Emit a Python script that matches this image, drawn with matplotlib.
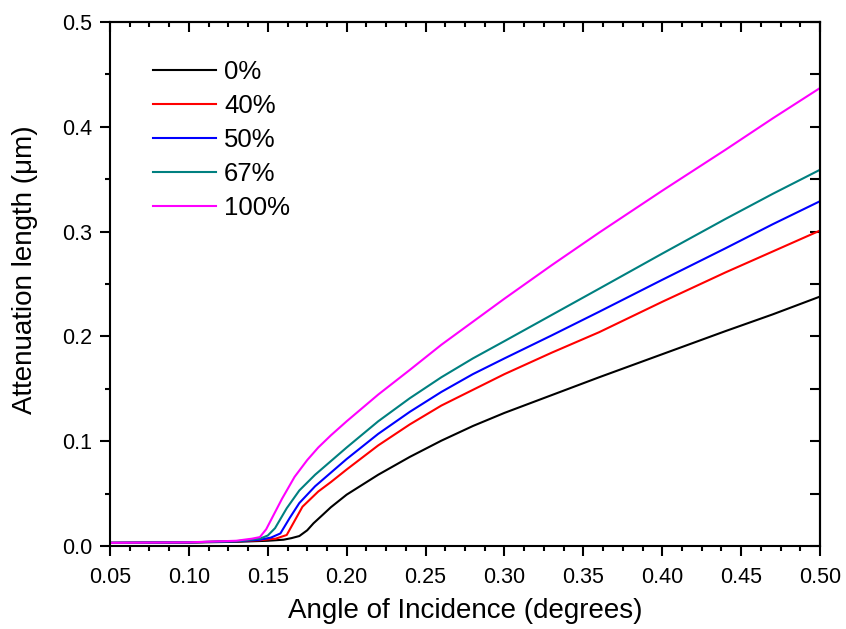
import matplotlib
matplotlib.use('Agg')
import matplotlib.pyplot as plt
from matplotlib.ticker import MultipleLocator

plt.rcParams['font.family'] = ['Liberation Sans', 'DejaVu Sans']

labels = ['0%', '40%', '50%', '67%', '100%']
colors = ['#000000', '#ff0000', '#0000ff', '#008080', '#ff00ff']

# angle (degrees) and attenuation length (um)
x_0 = [0.05, 0.10, 0.13, 0.15, 0.16, 0.165, 0.170, 0.175, 0.179, 0.185, 0.19, 0.20,
       0.22, 0.24, 0.26, 0.28, 0.30, 0.33, 0.36, 0.40, 0.44, 0.47, 0.50]
y_0 = [0.003, 0.0033, 0.004, 0.005, 0.006, 0.0075, 0.0095, 0.015, 0.0217, 0.030,
       0.037, 0.049, 0.068, 0.085, 0.1005, 0.1145, 0.127, 0.144, 0.161, 0.183, 0.205,
       0.221, 0.238]

x_40 = [0.05, 0.10, 0.13, 0.145, 0.155, 0.162, 0.167, 0.172, 0.182, 0.19, 0.20,
        0.22, 0.24, 0.26, 0.28, 0.30, 0.33, 0.36, 0.40, 0.44, 0.47, 0.50]
y_40 = [0.003, 0.0035, 0.0045, 0.0055, 0.007, 0.0105, 0.024, 0.0375, 0.052, 0.061,
        0.073, 0.096, 0.116, 0.134, 0.149, 0.164, 0.1845, 0.204, 0.233, 0.261, 0.281,
        0.301]

x_50 = [0.05, 0.10, 0.13, 0.145, 0.152, 0.158, 0.164, 0.170, 0.18, 0.19, 0.20,
        0.22, 0.24, 0.26, 0.28, 0.30, 0.33, 0.36, 0.40, 0.44, 0.47, 0.50]
y_50 = [0.003, 0.0035, 0.0045, 0.006, 0.008, 0.012, 0.027, 0.041, 0.057, 0.070,
        0.083, 0.107, 0.128, 0.147, 0.164, 0.179, 0.201, 0.2235, 0.254, 0.284, 0.307,
        0.329]

x_67 = [0.05, 0.10, 0.13, 0.145, 0.150, 0.1546, 0.162, 0.170, 0.18, 0.19, 0.20,
        0.22, 0.24, 0.26, 0.28, 0.30, 0.33, 0.36, 0.40, 0.44, 0.47, 0.50]
y_67 = [0.003, 0.0035, 0.0045, 0.007, 0.010, 0.017, 0.036, 0.053, 0.068, 0.081,
        0.094, 0.119, 0.141, 0.161, 0.179, 0.1955, 0.2205, 0.2455, 0.279, 0.312, 0.336,
        0.359]

x_100 = [0.05, 0.10, 0.13, 0.14, 0.145, 0.149, 0.159, 0.167, 0.175, 0.182, 0.19,
         0.20, 0.22, 0.24, 0.26, 0.28, 0.30, 0.33, 0.36, 0.40, 0.44, 0.47, 0.50]
y_100 = [0.003, 0.0035, 0.005, 0.007, 0.0085, 0.016, 0.045, 0.066, 0.082, 0.094,
         0.1056, 0.119, 0.1445, 0.168, 0.192, 0.214, 0.236, 0.268, 0.299, 0.339,
         0.378, 0.408, 0.437]

xs = [x_0, x_40, x_50, x_67, x_100]
ys = [y_0, y_40, y_50, y_67, y_100]

fig = plt.figure(figsize=(8.46, 6.29), dpi=100)
ax = fig.add_axes([110 / 846, 83 / 629, 710 / 846, 524 / 629])

for x, y, c, lab in zip(xs, ys, colors, labels):
    ax.plot(x, y, color=c, lw=1.5, label=lab)

ax.set_xlim(0.05, 0.50)
ax.set_ylim(0.0, 0.5)
ax.xaxis.set_major_locator(MultipleLocator(0.05))
ax.xaxis.set_minor_locator(MultipleLocator(0.0125))
ax.yaxis.set_major_locator(MultipleLocator(0.1))
ax.yaxis.set_minor_locator(MultipleLocator(0.05))
ax.xaxis.set_major_formatter(lambda v, p: f'{v:.2f}')
ax.yaxis.set_major_formatter(lambda v, p: f'{v:.1f}')

for s in ax.spines.values():
    s.set_linewidth(1.5)

ax.tick_params(which='major', direction='out', length=7, width=1.5,
               labelsize=15.5, pad=8)
ax.tick_params(which='minor', direction='out', length=3.5, width=1.5)
ax.tick_params(axis='y', which='major', pad=6)

# mirrored axes on top and right, ticks pointing inwards
top = ax.secondary_xaxis('top')
top.xaxis.set_major_locator(MultipleLocator(0.05))
top.xaxis.set_minor_locator(MultipleLocator(0.0125))
top.tick_params(which='major', direction='in', length=7, width=1.5, labeltop=False)
top.tick_params(which='minor', direction='in', length=3.5, width=1.5)
top.spines['top'].set_linewidth(1.5)

right = ax.secondary_yaxis('right')
right.yaxis.set_major_locator(MultipleLocator(0.1))
right.yaxis.set_minor_locator(MultipleLocator(0.05))
right.tick_params(which='both', direction='in', length=7, width=1.5, labelright=False)
right.spines['right'].set_linewidth(1.5)

ax.set_xlabel('Angle of Incidence (degrees)', fontsize=20)
ax.set_ylabel('Attenuation length (\u03bcm)', fontsize=20)
ax.xaxis.set_label_coords(0.5, -0.099)
ax.yaxis.set_label_coords(-0.102, 0.527)

ax.legend(loc='upper left', bbox_to_anchor=(0.0465, 0.948), frameon=False,
          fontsize=18.5, handlelength=2.45, handletextpad=0.3, labelspacing=0.39,
          borderaxespad=0)

fig.savefig('out.png', dpi=100)
